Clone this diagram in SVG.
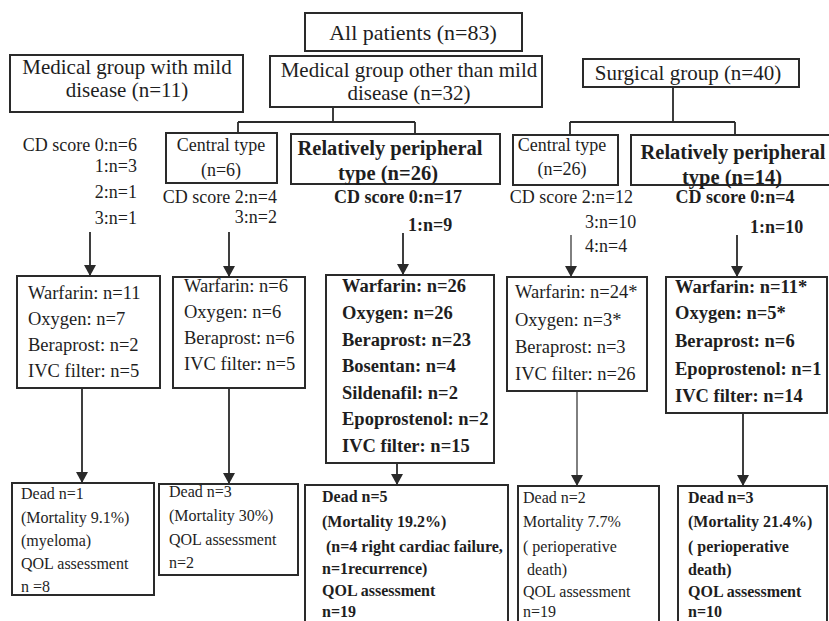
<svg xmlns="http://www.w3.org/2000/svg" width="829" height="621" viewBox="0 0 829 621">
<style>
text{font-family:"Liberation Serif","Times New Roman",serif;fill:#1e1e1e}
.box{fill:#fff;stroke:#2a2a2a;stroke-width:2}
.h{font-size:21px}
.h22{font-size:22px}
.hb{font-size:20.5px;font-weight:bold}
.c{font-size:18px}
.cb{font-size:18px;font-weight:bold}
.d{font-size:18.5px}
.db{font-size:18.5px;font-weight:bold}
.o{font-size:16px}
.ob{font-size:16px;font-weight:bold}
.m{text-anchor:middle}
.e{text-anchor:end}
.ln{fill:none;stroke:#2a2a2a;stroke-width:1.8}
.thin{fill:none;stroke:#2a2a2a;stroke-width:1.2}
</style>
<defs>
<marker id="arr" markerUnits="userSpaceOnUse" markerWidth="11" markerHeight="12" viewBox="0 0 11 12" refX="11" refY="6" orient="auto">
<path d="M0,0 L11,6 L0,12 Z" fill="#2a2a2a"/>
</marker>
</defs>
<rect width="829" height="621" fill="#fff"/>

<g id="connectors">
<path class="ln" d="M333,107 V122 M238,122 H415 M238,122 V133 M415,122 V134"/>
<path class="ln" d="M673,87 V122 M570,122 H735 M570,122 V135 M735,122 V135"/>
<path class="ln" d="M90,232 V276" marker-end="url(#arr)"/>
<path class="ln" d="M229,232 V277" marker-end="url(#arr)"/>
<path class="ln" d="M403,233 V275" marker-end="url(#arr)"/>
<path class="thin" d="M571,235 V277" marker-end="url(#arr)"/>
<path class="ln" d="M737,235 V277" marker-end="url(#arr)"/>
<path class="ln" d="M82,388 V483" marker-end="url(#arr)"/>
<path class="ln" d="M229,388 V484" marker-end="url(#arr)"/>
<path class="ln" d="M397,463 V485" marker-end="url(#arr)"/>
<path class="thin" d="M577,391 V486" marker-end="url(#arr)"/>
<path class="ln" d="M743,413 V486" marker-end="url(#arr)"/>
</g>

<g id="all-patients">
<rect class="box" x="305" y="13" width="217" height="38"/>
<text class="h22 m" x="413" y="40">All patients (n=83)</text>
</g>

<g id="medical-mild">
<rect class="box" x="10" y="55" width="233" height="57"/>
<text class="h m" x="127" y="74">Medical group with mild</text>
<text class="h m" x="127" y="97">disease (n=11)</text>
</g>

<g id="medical-other">
<rect class="box" x="270" y="56" width="272" height="51"/>
<text class="h m" x="409" y="77">Medical group other than mild</text>
<text class="h m" x="409" y="100">disease (n=32)</text>
</g>

<g id="surgical">
<rect class="box" x="583" y="59" width="216" height="28"/>
<text class="h m" x="688" y="80">Surgical group (n=40)</text>
</g>

<g id="mild-cd">
<text class="c e" x="137" y="151">CD score 0:n=6</text>
<text class="c e" x="137" y="172">1:n=3</text>
<text class="c e" x="137" y="198">2:n=1</text>
<text class="c e" x="137" y="224">3:n=1</text>
</g>

<g id="med-central">
<rect class="box" x="166" y="133" width="111" height="50"/>
<text class="c m" x="221" y="151">Central type</text>
<text class="c m" x="221" y="176">(n=6)</text>
<text class="c e" x="277" y="203">CD score 2:n=4</text>
<text class="c e" x="277" y="223">3:n=2</text>
</g>

<g id="med-peripheral">
<rect class="box" x="291" y="134" width="209" height="50"/>
<text class="hb m" x="390" y="155">Relatively peripheral</text>
<text class="hb m" x="388" y="180">type (n=26)</text>
<text class="cb m" x="398" y="203">CD score 0:n=17</text>
<text class="cb" x="408" y="231">1:n=9</text>
</g>

<g id="surg-central">
<rect class="box" x="513" y="135" width="105" height="50"/>
<text class="c m" x="562" y="151">Central type</text>
<text class="c m" x="562" y="175">(n=26)</text>
<text class="c e" x="633" y="203">CD score 2:n=12</text>
<text class="c" x="585" y="228">3:n=10</text>
<text class="c" x="585" y="252">4:n=4</text>
</g>

<g id="surg-peripheral">
<rect class="box" x="631" y="135" width="210" height="50"/>
<text class="hb m" x="733" y="159">Relatively peripheral</text>
<text class="hb m" x="732" y="184">type (n=14)</text>
<text class="cb m" x="735" y="203">CD score 0:n=4</text>
<text class="cb" x="750" y="233">1:n=10</text>
</g>

<g id="mild-treatment">
<rect class="box" x="17" y="276" width="143" height="112"/>
<text class="d" x="28" y="299">Warfarin: n=11</text>
<text class="d" x="28" y="325">Oxygen: n=7</text>
<text class="d" x="28" y="351">Beraprost: n=2</text>
<text class="d" x="28" y="377">IVC filter: n=5</text>
</g>

<g id="med-central-treatment">
<rect class="box" x="173" y="277" width="132" height="111"/>
<text class="d" x="184" y="292">Warfarin: n=6</text>
<text class="d" x="184" y="318">Oxygen: n=6</text>
<text class="d" x="184" y="344">Beraprost: n=6</text>
<text class="d" x="184" y="370">IVC filter: n=5</text>
</g>

<g id="med-peripheral-treatment">
<rect class="box" x="326" y="275" width="168" height="188"/>
<text class="db" x="342" y="292">Warfarin: n=26</text>
<text class="db" x="342" y="319">Oxygen: n=26</text>
<text class="db" x="342" y="346">Beraprost: n=23</text>
<text class="db" x="342" y="372">Bosentan: n=4</text>
<text class="db" x="342" y="399">Sildenafil: n=2</text>
<text class="db" x="342" y="425">Epoprostenol: n=2</text>
<text class="db" x="342" y="452">IVC filter: n=15</text>
</g>

<g id="surg-central-treatment">
<rect class="box" x="507" y="277" width="140" height="114"/>
<text class="d" x="515" y="298">Warfarin: n=24*</text>
<text class="d" x="515" y="326">Oxygen: n=3*</text>
<text class="d" x="515" y="353">Beraprost: n=3</text>
<text class="d" x="515" y="380">IVC filter: n=26</text>
</g>

<g id="surg-peripheral-treatment">
<rect class="box" x="666" y="277" width="161" height="136"/>
<text class="db" x="675" y="293">Warfarin: n=11*</text>
<text class="db" x="675" y="319">Oxygen: n=5*</text>
<text class="db" x="675" y="347">Beraprost: n=6</text>
<text class="db" x="675" y="375">Epoprostenol: n=1</text>
<text class="db" x="675" y="402">IVC filter: n=14</text>
</g>

<g id="mild-outcome">
<rect class="box" x="12" y="483" width="142" height="112"/>
<text class="o" x="21" y="499">Dead n=1</text>
<text class="o" x="21" y="523">(Mortality 9.1%)</text>
<text class="o" x="21" y="546">(myeloma)</text>
<text class="o" x="21" y="569">QOL assessment</text>
<text class="o" x="21" y="592">n =8</text>
</g>

<g id="med-central-outcome">
<rect class="box" x="159" y="484" width="139" height="91"/>
<text class="o" x="169" y="497">Dead n=3</text>
<text class="o" x="169" y="521">(Mortality 30%)</text>
<text class="o" x="169" y="545">QOL assessment</text>
<text class="o" x="169" y="568">n=2</text>
</g>

<g id="med-peripheral-outcome">
<rect class="box" x="305" y="485" width="203" height="160"/>
<text class="ob" x="322" y="502">Dead n=5</text>
<text class="ob" x="322" y="527">(Mortality 19.2%)</text>
<text class="ob" x="326" y="552">(n=4 right cardiac failure,</text>
<text class="ob" x="322" y="574">n=1recurrence)</text>
<text class="ob" x="322" y="596">QOL assessment</text>
<text class="ob" x="322" y="617">n=19</text>
</g>

<g id="surg-central-outcome">
<rect class="box" x="518" y="486" width="141" height="160"/>
<text class="o" x="523" y="503">Dead n=2</text>
<text class="o" x="523" y="527">Mortality 7.7%</text>
<text class="o" x="523" y="552">( perioperative</text>
<text class="o" x="527" y="575">death)</text>
<text class="o" x="523" y="597">QOL assessment</text>
<text class="o" x="523" y="617">n=19</text>
</g>

<g id="surg-peripheral-outcome">
<rect class="box" x="678" y="486" width="149" height="160"/>
<text class="ob" x="688" y="503">Dead n=3</text>
<text class="ob" x="688" y="527">(Mortality 21.4%)</text>
<text class="ob" x="688" y="552">( perioperative</text>
<text class="ob" x="688" y="575">death)</text>
<text class="ob" x="688" y="597">QOL assessment</text>
<text class="ob" x="688" y="617">n=10</text>
</g>
</svg>
